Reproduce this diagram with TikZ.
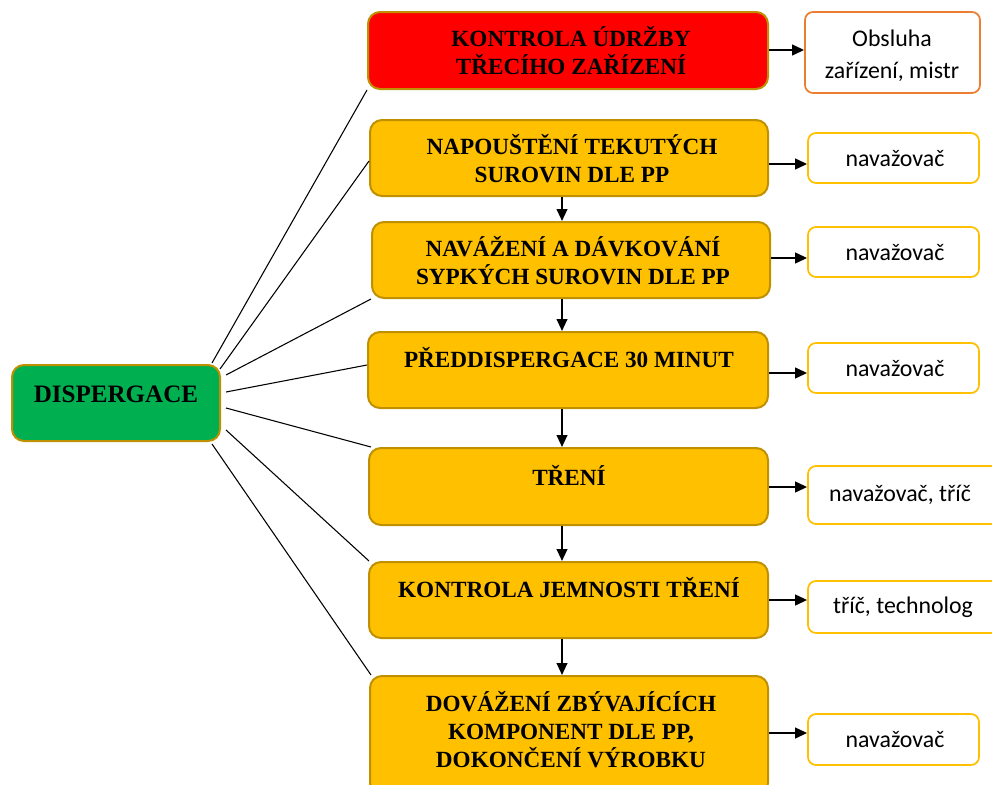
\documentclass[tikz,border=0pt]{standalone}
\usepackage{fontspec}
\setmainfont{Liberation Serif}
\newfontfamily\calibrifont{Carlito}
\usetikzlibrary{fit,calc,arrows.meta}
\definecolor{stepred}{HTML}{FF0000}
\definecolor{gold}{HTML}{FFC000}
\definecolor{golddark}{HTML}{BF9000}
\definecolor{leafgreen}{HTML}{00B050}
\definecolor{accentorange}{HTML}{ED7D31}

\begin{document}
\begin{tikzpicture}[x=0.75pt,y=-0.75pt,
  box/.style={draw=golddark,line width=1.5pt,rounded corners=9pt,inner sep=0pt},
  stepbox/.style={box,fill=gold},
  steptext/.style={font=\bfseries\fontsize{17.4}{21}\selectfont,align=center,inner sep=0pt},
  rolebox/.style={draw=gold,line width=1.3pt,rounded corners=6pt,fill=white,inner sep=0pt},
  roletext/.style={font=\calibrifont\fontsize{17.9}{24}\selectfont,align=center,inner sep=0pt},
  flow/.style={line width=1.5pt,-{Triangle[length=9pt,width=8pt]}},
  fan/.style={line width=0.8pt}]
\useasboundingbox (0,0) rectangle (992,785);
\clip (0,0) rectangle (992,785);

% root of the process
\node[box,fill=leafgreen,fit={(12,365) (220,441)}] (g) {};
\node[steptext,font=\bfseries\fontsize{18.8}{22}\selectfont] (gt) at (116,394) {DISPERGACE};

% process steps
\node[box,fill=stepred,fit={(368,12) (768,89)}] (r0) {};
\node[stepbox,fit={(370,120) (768,196)}] (y1) {};
\node[stepbox,fit={(372,222) (770,298)}] (y2) {};
\node[stepbox,fit={(368,332) (768,408)}] (y3) {};
\node[stepbox,fit={(369,448) (768,525)}] (y4) {};
\node[stepbox,fit={(369,562) (768,638)}] (y5) {};
\node[stepbox,fit={(370,676) (768,795)}] (y6) {};

\node[steptext] (t0) at (571,51) {KONTROLA ÚDRŽBY\\TŘECÍHO ZAŘÍZENÍ};
\node[steptext] (t1) at (572,158.5) {NAPOUŠTĚNÍ TEKUTÝCH\\SUROVIN DLE PP};
\node[steptext] (t2) at (573,261) {NAVÁŽENÍ A DÁVKOVÁNÍ\\SYPKÝCH SUROVIN DLE PP};
\node[steptext] (t3) at (569,358) {PŘEDDISPERGACE 30 MINUT};
\node[steptext] (t4) at (569,475) {TŘENÍ};
\node[steptext] (t5) at (569,588) {KONTROLA JEMNOSTI TŘENÍ};
\node[steptext] (t6) at (571,730) {DOVÁŽENÍ ZBÝVAJÍCÍCH\\KOMPONENT DLE PP,\\DOKONČENÍ VÝROBKU};

% responsible persons
\node[rolebox,draw=accentorange,fit={(805,12) (980,93)}] (o0) {};
\node[rolebox,fit={(808,133) (979,183)}] (b1) {};
\node[rolebox,fit={(808,227) (979,277)}] (b2) {};
\node[rolebox,fit={(808,343) (979,393)}] (b3) {};
\node[rolebox,fit={(808,466) (1005,524)}] (b4) {};
\node[rolebox,fit={(808,581) (1005,633)}] (b5) {};
\node[rolebox,fit={(808,714) (979,765)}] (b6) {};

\node[roletext] (ot) at (892,56) {Obsluha\\zařízení, mistr};
\node[roletext] (bt1) at (895,159) {navažovač};
\node[roletext] (bt2) at (895,253) {navažovač};
\node[roletext] (bt3) at (895,369) {navažovač};
\node[roletext] (bt4) at (900,495) {navažovač, tříč};
\node[roletext] (bt5) at (903,607) {tříč, technolog};
\node[roletext] (bt6) at (895,740) {navažovač};

% fan from the root to every step
\draw[fan] ($(g.north east)+(-9,-1)$) -- (r0.south west);
\draw[fan] ($(g.east |- 0,369)+(-1,0)$) -- (y1.west |- 0,161);
\draw[fan] ($(g.east |- 0,375)+(5,0)$) -- (y2.south west);
\draw[fan] ($(g.east |- 0,392)+(5,0)$) -- (y3.west |- 0,365);
\draw[fan] ($(g.east |- 0,408)+(5,0)$) -- ($(y4.north west)+(3,0)$);
\draw[fan] ($(g.east |- 0,430)+(5,0)$) -- ($(y5.north west)+(1,0)$);
\draw[fan] ($(g.south east)+(-9,2)$) -- ($(y6.north west)+(2,0)$);

% sequence of steps
\draw[flow] (y1.south -| 562,0) -- (y2.north -| 562,0);
\draw[flow] (y2.south -| 562,0) -- (y3.north -| 562,0);
\draw[flow] (y3.south -| 562,0) -- (y4.north -| 562,0);
\draw[flow] (y4.south -| 562,0) -- (y5.north -| 562,0);
\draw[flow] (y5.south -| 562,0) -- (y6.north -| 562,0);

% step to responsible person
\draw[flow] (r0.east |- 0,50) -- (o0.west |- 0,50);
\draw[flow] (y1.east |- 0,164) -- (b1.west |- 0,164);
\draw[flow] (y2.east |- 0,258) -- (b2.west |- 0,258);
\draw[flow] (y3.east |- 0,373) -- (b3.west |- 0,373);
\draw[flow] (y4.east |- 0,487) -- (b4.west |- 0,487);
\draw[flow] (y5.east |- 0,600) -- (b5.west |- 0,600);
\draw[flow] (y6.east |- 0,733) -- (b6.west |- 0,733);
\end{tikzpicture}
\end{document}
